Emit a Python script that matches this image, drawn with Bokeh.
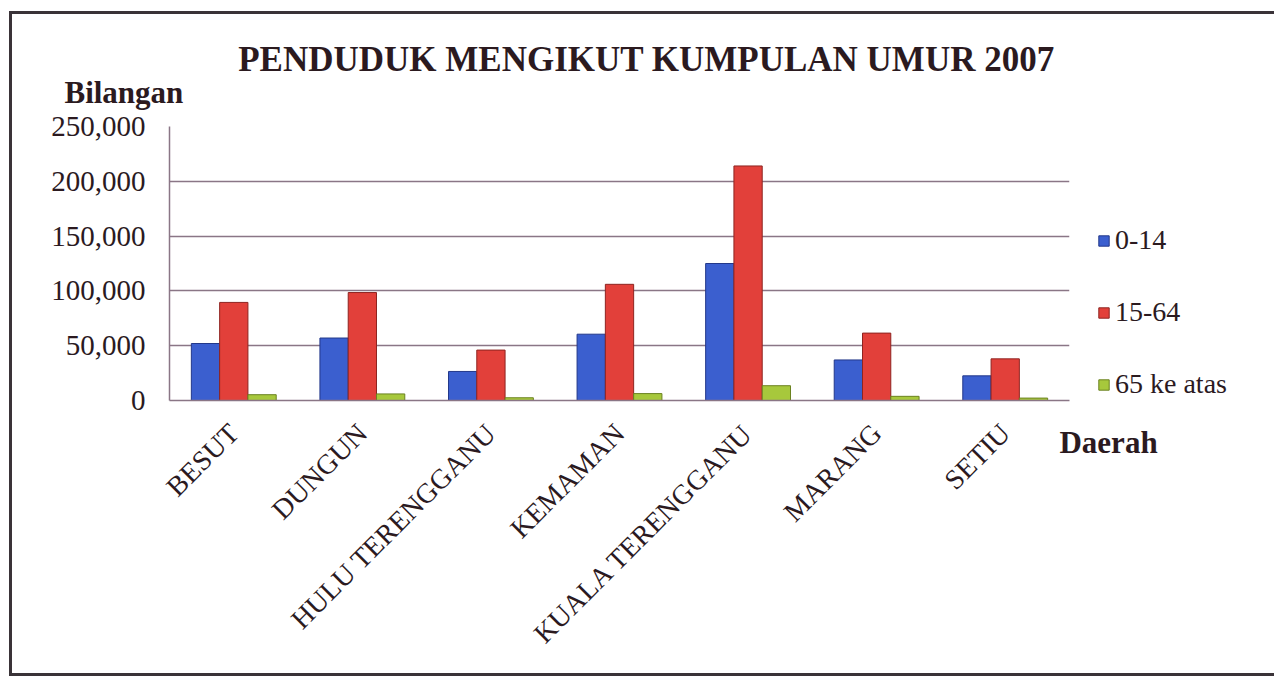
from bokeh.plotting import figure
from bokeh.models import ColumnDataSource, FactorRange, Range1d, Legend, LegendItem, Label, NumeralTickFormatter, FixedTicker
from bokeh.transform import dodge
from bokeh.embed import file_html
from bokeh.resources import INLINE

daerah = ["BESUT", "DUNGUN", "HULU TERENGGANU", "KEMAMAN", "KUALA TERENGGANU", "MARANG", "SETIU"]
umur_0_14 = [52000, 57000, 26500, 60500, 125000, 37000, 22500]
umur_15_64 = [89500, 98500, 46000, 106000, 214000, 61500, 38000]
umur_65 = [5300, 6000, 2500, 6300, 13500, 3800, 2200]
series_names = ["0-14", "15-64", "65 ke atas"]
y_ticks = [0, 50000, 100000, 150000, 200000, 250000]

colors = ["#3b5fcf", "#e2403a", "#a7c83c"]
edges = ["#23388a", "#8e2420", "#6b8220"]
text_col = "#2b1a1f"
serif = "Liberation Serif"

src = ColumnDataSource(dict(daerah=daerah, a=umur_0_14, b=umur_15_64, c=umur_65))

p = figure(x_range=FactorRange(*daerah, range_padding=0), y_range=Range1d(0, 250000),
           frame_width=900, frame_height=274, output_backend="svg", toolbar_location=None,
           min_border_left=157, min_border_right=198, min_border_top=112, min_border_bottom=273)
p.outline_line_color = None
p.styles = {"border": "3px solid #3a3338", "margin": "11px 0 0 9px"}

renderers = []
for i, (col, off) in enumerate(zip(["a", "b", "c"], [-0.22, 0.0, 0.22])):
    r = p.vbar(x=dodge("daerah", off, range=p.x_range), top=col, width=0.22, source=src,
               fill_color=colors[i], line_color=edges[i], line_width=1)
    renderers.append(r)

p.xgrid.grid_line_color = None
p.ygrid.grid_line_color = "#8a7686"
p.ygrid.grid_line_width = 1.5

p.yaxis.ticker = FixedTicker(ticks=y_ticks)
p.yaxis.formatter = NumeralTickFormatter(format="0,0")
p.yaxis.major_label_text_font = serif
p.yaxis.major_label_text_font_size = "29px"
p.yaxis.major_label_text_color = text_col
p.yaxis.major_tick_line_color = None
p.yaxis.minor_tick_line_color = None
p.yaxis.axis_line_color = "#8a7686"
p.yaxis.axis_line_width = 1.5
p.yaxis.major_label_standoff = 18

p.xaxis.major_label_orientation = 0.785398
p.xaxis.major_label_text_font = serif
p.xaxis.major_label_text_font_size = "28px"
p.xaxis.major_label_text_color = text_col
p.xaxis.major_tick_line_color = None
p.xaxis.axis_line_color = "#8a7686"
p.xaxis.axis_line_width = 1.5
p.xaxis.major_label_standoff = 22

legend = Legend(items=[LegendItem(label=n, renderers=[r]) for n, r in zip(series_names, renderers)],
                location=(28, 0), border_line_color=None, background_fill_alpha=0,
                label_text_font=serif, label_text_font_size="28px", label_text_color=text_col,
                glyph_width=13, glyph_height=13, spacing=40, padding=0, margin=0,
                label_standoff=5)
p.add_layout(legend, "right")

# text positions given in the chart's own coordinates (categories 0..7, people)
p.add_layout(Label(x=3.71, y=311000, text="PENDUDUK MENGIKUT KUMPULAN UMUR 2007",
                   text_align="center", text_baseline="middle", text_font=serif, text_font_size="35px",
                   text_font_style="bold", text_color=text_col), "above")
p.add_layout(Label(x=-0.817, y=281000, text="Bilangan",
                   text_align="left", text_baseline="middle", text_font=serif, text_font_size="31px",
                   text_font_style="bold", text_color=text_col), "above")
p.add_layout(Label(x=6.922, y=-38300, text="Daerah",
                   text_align="left", text_baseline="middle", text_font=serif, text_font_size="31px",
                   text_font_style="bold", text_color=text_col), "above")

open("out.html", "w").write(file_html(p, INLINE))
